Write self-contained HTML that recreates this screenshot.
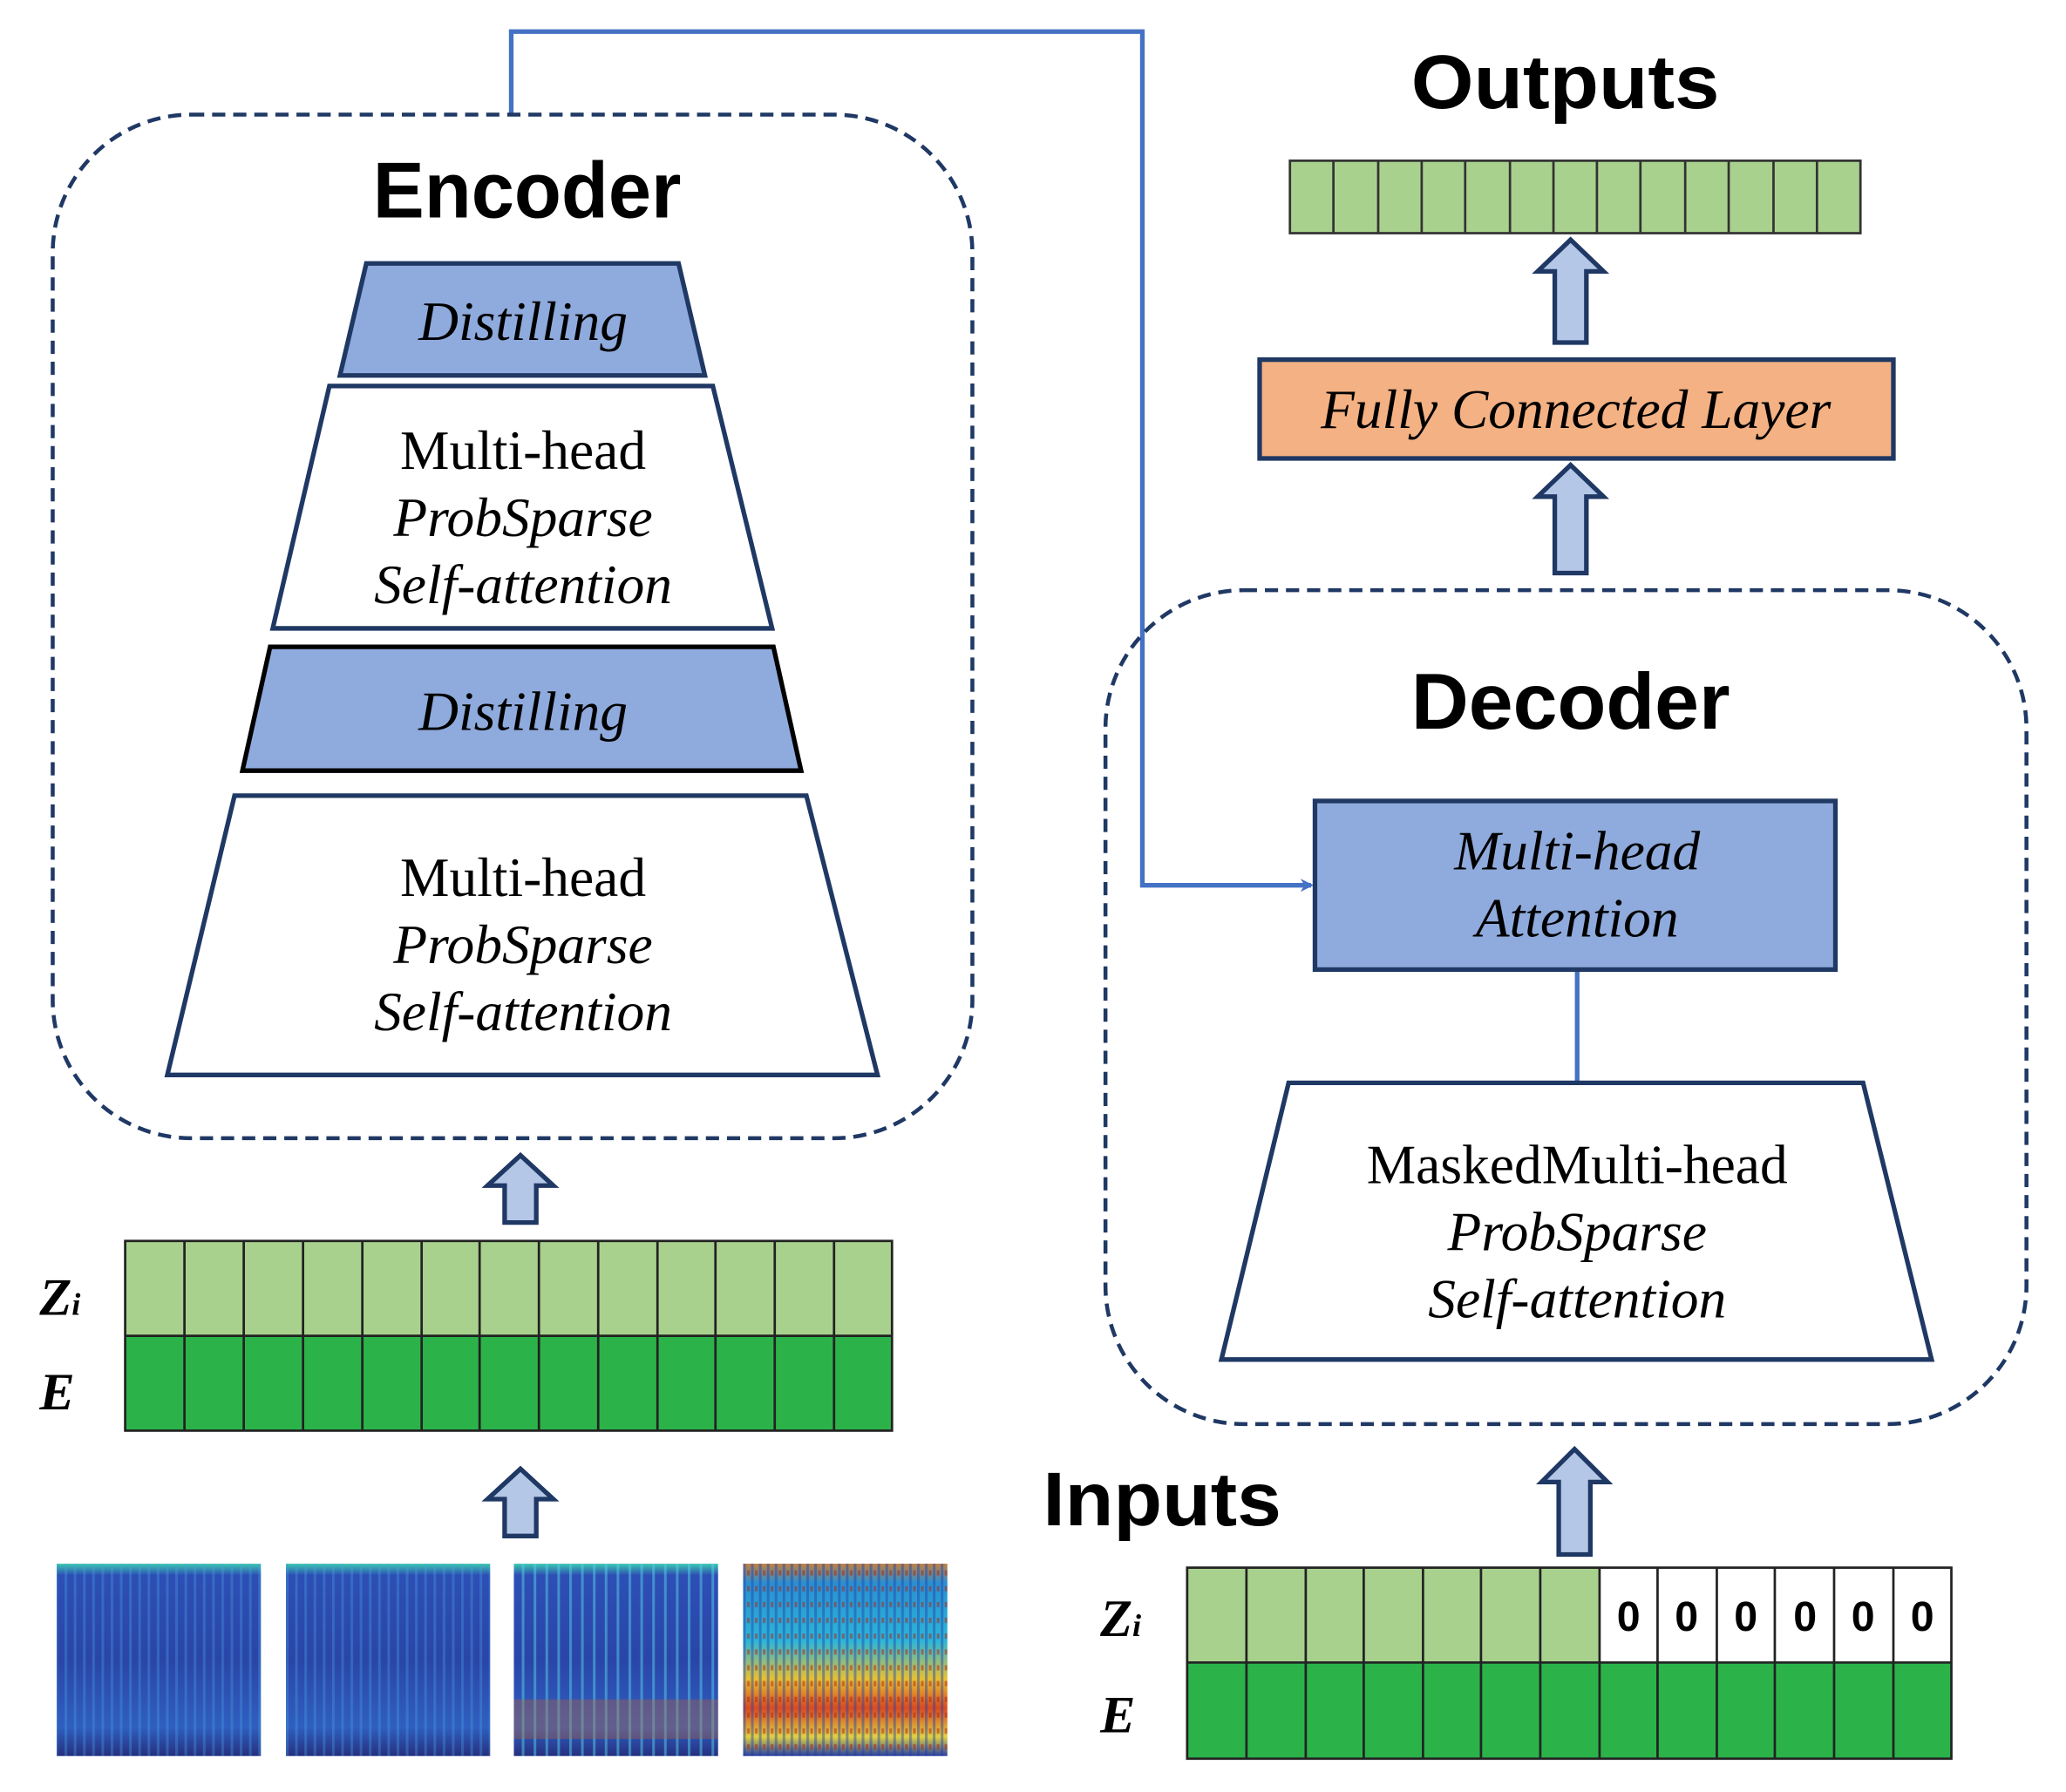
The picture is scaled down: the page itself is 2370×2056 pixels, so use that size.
<!DOCTYPE html>
<html><head><meta charset="utf-8"><style>html,body{margin:0;padding:0;background:#fff}svg{display:block}</style></head><body>
<svg width="2370" height="2056" viewBox="0 0 1568 1360.3" preserveAspectRatio="none" xmlns="http://www.w3.org/2000/svg">
<defs>
<marker id="ah" markerWidth="10" markerHeight="10" refX="8" refY="5" orient="auto" markerUnits="userSpaceOnUse"><path d="M0,0 L10,5 L0,10 L3,5 Z" fill="#4472c4"/></marker>
<linearGradient id="sp1" x1="0" y1="0" x2="0" y2="1"><stop offset="0" stop-color="#3cc8b0"/><stop offset="0.06" stop-color="#2d4fb5"/><stop offset="0.5" stop-color="#2a45a8"/><stop offset="0.85" stop-color="#2f5fc0"/><stop offset="1" stop-color="#26307f"/></linearGradient>
<linearGradient id="sp4" x1="0" y1="0" x2="0" y2="1"><stop offset="0" stop-color="#c08040"/><stop offset="0.1" stop-color="#2a8fd0"/><stop offset="0.4" stop-color="#2bb6d8"/><stop offset="0.6" stop-color="#e8c030"/><stop offset="0.75" stop-color="#d84a20"/><stop offset="0.9" stop-color="#e0d040"/><stop offset="1" stop-color="#2a40a0"/></linearGradient>
<pattern id="str" width="7" height="10" patternUnits="userSpaceOnUse"><rect width="2" height="10" fill="#4aa0e0" opacity="0.35"/></pattern>
<pattern id="str3" width="9" height="10" patternUnits="userSpaceOnUse"><rect width="2" height="10" fill="#58d0e8" opacity="0.5"/></pattern>
<pattern id="str4" width="6" height="12" patternUnits="userSpaceOnUse"><rect width="2" height="12" fill="#2040b0" opacity="0.45"/><rect x="3" y="4" width="2" height="4" fill="#b02010" opacity="0.5"/></pattern>
</defs>
<style>
.t{font-family:"Liberation Serif",serif;font-size:42px;text-anchor:middle;fill:#000}
.i{font-style:italic}
.h{font-family:"Liberation Sans",sans-serif;font-weight:bold;text-anchor:middle;fill:#000}
.s{stroke:#1f3864;stroke-width:3.5}
.ar{fill:#b4c7e7;stroke:#1f3864;stroke-width:3.5}
</style>
<path d="M388,87 L388,24 L867,24 L867,672 L995,672" fill="none" stroke="#4472c4" stroke-width="3.5" marker-end="url(#ah)"/>
<!-- Encoder -->
<rect x="40" y="87" width="698" height="777" rx="105" fill="none" stroke="#1f3864" stroke-width="3" stroke-dasharray="10,6"/>
<text x="400" y="165" class="h" font-size="60" textLength="234" lengthAdjust="spacingAndGlyphs">Encoder</text>
<polygon points="278,200 515,200 535,285 258,285" fill="#8faadc" class="s"/>
<text x="397" y="258" class="t i">Distilling</text>
<polygon points="250,293 541,293 586,477 207,477" fill="#fff" class="s"/>
<text x="397" y="356" class="t">Multi-head</text>
<text x="397" y="407" class="t i">ProbSparse</text>
<text x="397" y="458" class="t i">Self-attention</text>
<polygon points="205,491 587,491 608,585 184,585" fill="#8faadc" stroke="#000" stroke-width="3.5"/>
<text x="397" y="554" class="t i">Distilling</text>
<polygon points="178,604 612,604 666,816 127,816" fill="#fff" class="s"/>
<text x="397" y="680" class="t">Multi-head</text>
<text x="397" y="731" class="t i">ProbSparse</text>
<text x="397" y="782" class="t i">Self-attention</text>
<path class="ar" d="M383,928 L383,900 L370,900 L395,877 L420,900 L407,900 L407,928 Z"/>
<rect x="95" y="942" width="582" height="72" fill="#a9d18e"/>
<rect x="95" y="1014" width="582" height="72" fill="#2bb34a"/>
<g stroke="#222" stroke-width="1.8" fill="none">
<rect x="95" y="942" width="582" height="144"/><line x1="95" y1="1014" x2="677" y2="1014"/>
<path d="M140,942V1086M185,942V1086M230,942V1086M275,942V1086M320,942V1086M364,942V1086M409,942V1086M454,942V1086M499,942V1086M543,942V1086M588,942V1086M633,942V1086"/>
</g>
<text x="30" y="998" font-family="Liberation Serif,serif" font-size="40" font-weight="bold" font-style="italic">Z<tspan font-size="24">i</tspan></text>
<text x="30" y="1070" font-family="Liberation Serif,serif" font-size="40" font-weight="bold" font-style="italic">E</text>
<path class="ar" d="M383,1166 L383,1138 L370,1138 L395,1115 L420,1138 L407,1138 L407,1166 Z"/>
<rect x="43" y="1187" width="155" height="146" fill="url(#sp1)"/><rect x="43" y="1187" width="155" height="146" fill="url(#str)"/>
<rect x="217" y="1187" width="155" height="146" fill="url(#sp1)"/><rect x="217" y="1187" width="155" height="146" fill="url(#str)"/>
<rect x="390" y="1187" width="155" height="146" fill="url(#sp1)"/><rect x="390" y="1187" width="155" height="146" fill="url(#str3)"/><rect x="390" y="1290" width="155" height="30" fill="#c06030" opacity="0.35"/>
<rect x="564" y="1187" width="155" height="146" fill="url(#sp4)"/><rect x="564" y="1187" width="155" height="146" fill="url(#str4)"/>
<!-- Outputs -->
<text x="1188" y="82" class="h" font-size="58" textLength="234" lengthAdjust="spacingAndGlyphs">Outputs</text>
<rect x="979" y="122" width="433" height="55" fill="#a9d18e" stroke="#333" stroke-width="1.8"/>
<path d="M1012,122V177M1046,122V177M1079,122V177M1112,122V177M1146,122V177M1179,122V177M1212,122V177M1245,122V177M1279,122V177M1312,122V177M1346,122V177M1379,122V177" stroke="#333" stroke-width="1.8"/>
<path class="ar" d="M1180,260 L1180,206 L1167,206 L1192,182 L1217,206 L1204,206 L1204,260 Z"/>
<rect x="956" y="273" width="481" height="75" fill="#f4b183" class="s"/>
<text x="1196" y="325" class="t i">Fully Connected Layer</text>
<path class="ar" d="M1180,435 L1180,377 L1167,377 L1192,353 L1217,377 L1204,377 L1204,435 Z"/>
<!-- Decoder -->
<rect x="839" y="448" width="699" height="633" rx="105" fill="none" stroke="#1f3864" stroke-width="3" stroke-dasharray="10,6"/>
<text x="1192" y="553" class="h" font-size="60" textLength="242" lengthAdjust="spacingAndGlyphs">Decoder</text>
<line x1="1197" y1="736" x2="1197" y2="822" stroke="#4472c4" stroke-width="3.5"/>
<rect x="998" y="608" width="395" height="128" fill="#8faadc" class="s"/>
<text x="1197" y="660" class="t i">Multi-head</text>
<text x="1197" y="711" class="t i">Attention</text>
<polygon points="978,822 1414,822 1466,1032 927,1032" fill="#fff" class="s"/>
<text x="1197" y="898" class="t">MaskedMulti-head</text>
<text x="1197" y="949" class="t i">ProbSparse</text>
<text x="1197" y="1000" class="t i">Self-attention</text>
<path class="ar" d="M1183,1180 L1183,1125 L1170,1125 L1195,1100 L1220,1125 L1207,1125 L1207,1180 Z"/>
<text x="882" y="1158" class="h" font-size="58" textLength="181" lengthAdjust="spacingAndGlyphs">Inputs</text>
<rect x="901" y="1190" width="313" height="72" fill="#a9d18e"/>
<rect x="1214" y="1190" width="267" height="72" fill="#fff"/>
<rect x="901" y="1262" width="580" height="73" fill="#2bb34a"/>
<g stroke="#222" stroke-width="1.8" fill="none">
<rect x="901" y="1190" width="580" height="145"/><line x1="901" y1="1262" x2="1481" y2="1262"/>
<path d="M946,1190V1335M991,1190V1335M1035,1190V1335M1080,1190V1335M1124,1190V1335M1169,1190V1335M1214,1190V1335M1258,1190V1335M1303,1190V1335M1347,1190V1335M1392,1190V1335M1437,1190V1335"/>
</g>
<g font-family="Liberation Sans,sans-serif" font-weight="bold" font-size="32" text-anchor="middle">
<text x="1236" y="1238">0</text><text x="1280" y="1238">0</text><text x="1325" y="1238">0</text><text x="1370" y="1238">0</text><text x="1414" y="1238">0</text><text x="1459" y="1238">0</text>
</g>
<text x="835" y="1242" font-family="Liberation Serif,serif" font-size="40" font-weight="bold" font-style="italic">Z<tspan font-size="24">i</tspan></text>
<text x="835" y="1315" font-family="Liberation Serif,serif" font-size="40" font-weight="bold" font-style="italic">E</text>
</svg>
</body></html>
